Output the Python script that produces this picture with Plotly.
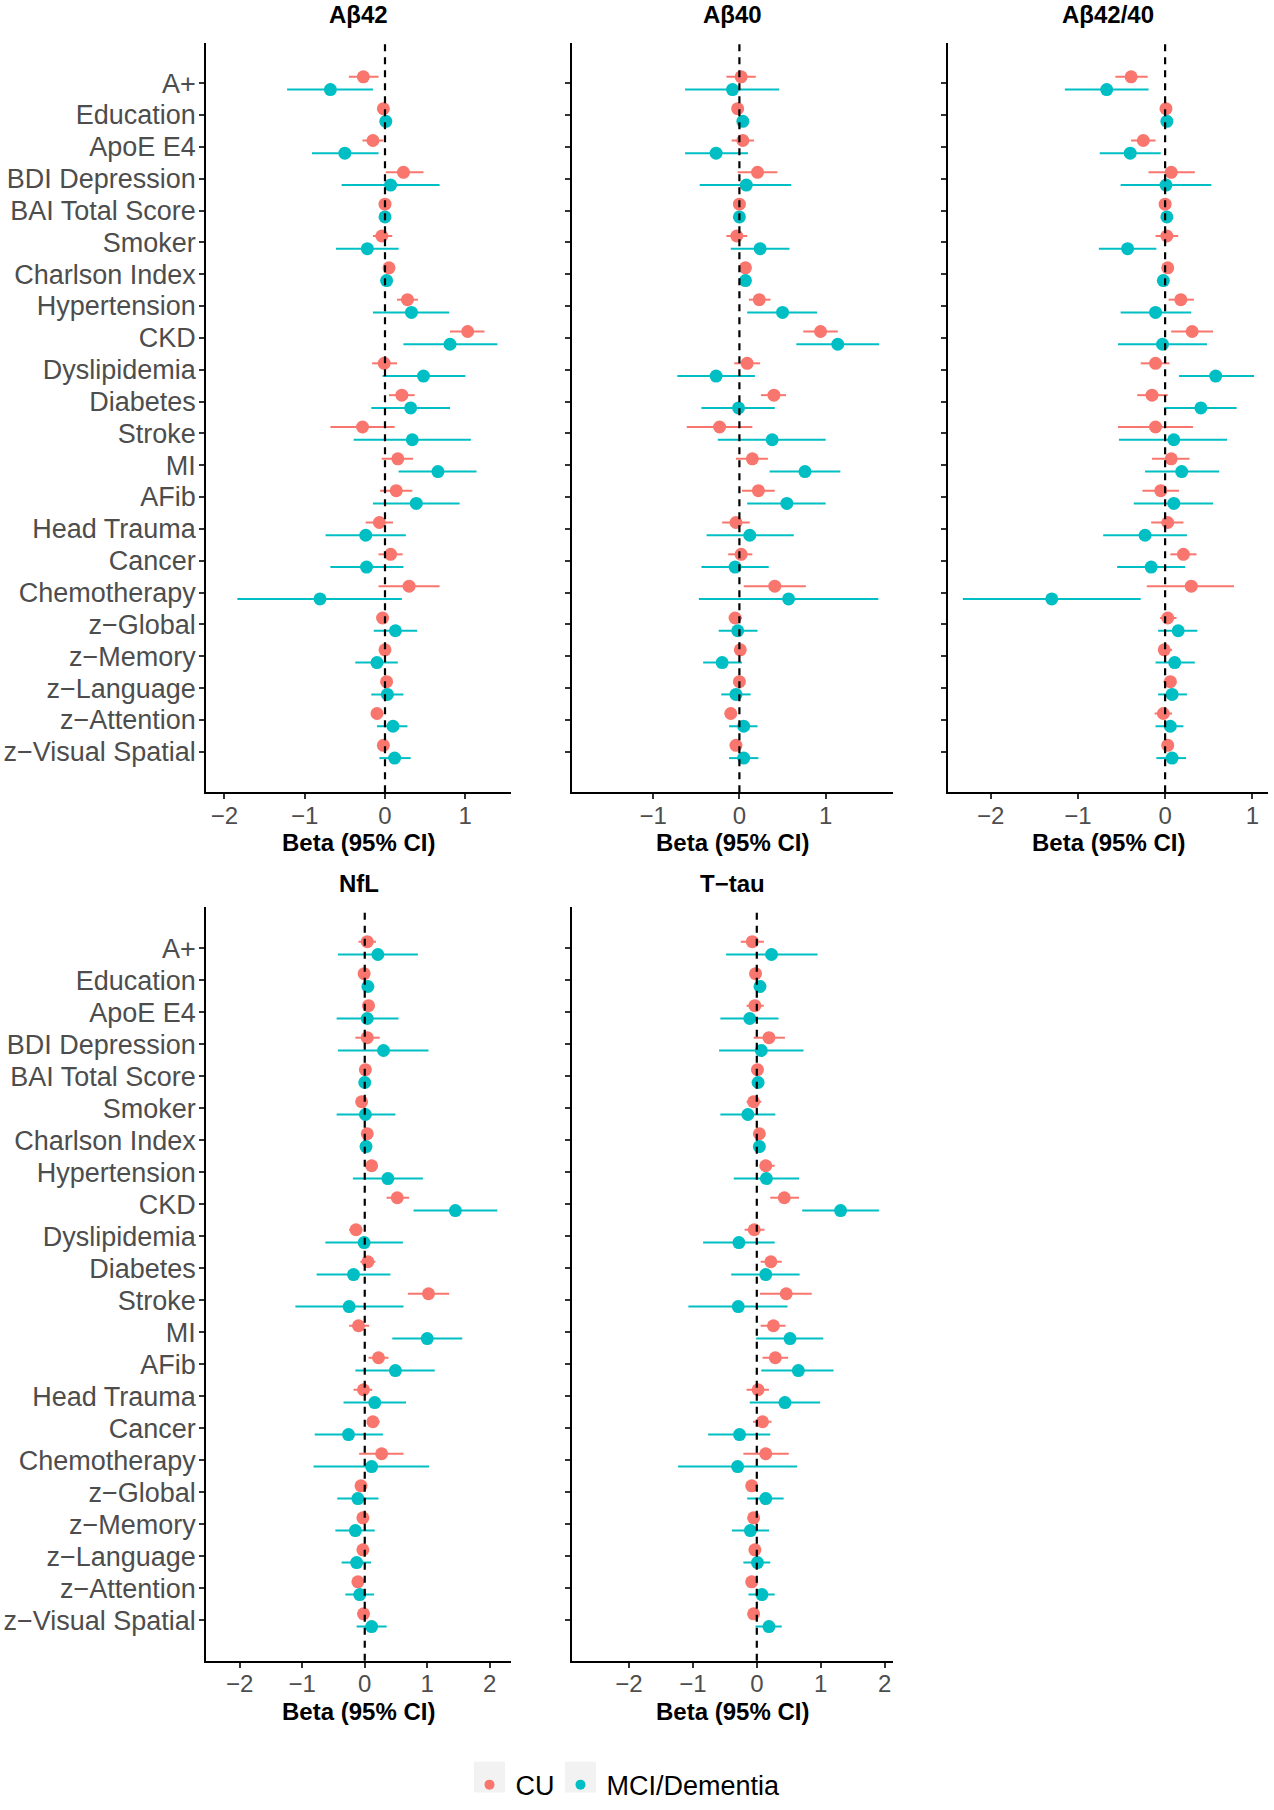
import plotly.graph_objects as go

# ---------------- data ----------------
categories = ["A+", "Education", "ApoE E4", "BDI Depression", "BAI Total Score", "Smoker",
              "Charlson Index", "Hypertension", "CKD", "Dyslipidemia", "Diabetes", "Stroke",
              "MI", "AFib", "Head Trauma", "Cancer", "Chemotherapy", "z−Global", "z−Memory",
              "z−Language", "z−Attention", "z−Visual Spatial"]

panel_titles = ["Aβ42", "Aβ40", "Aβ42/40", "NfL", "T−tau"]
group_names = ["CU", "MCI/Dementia"]

# Aβ42
ab42_cu_est = [-0.27, -0.02, -0.15, 0.23, 0.00, -0.04, 0.05, 0.28, 1.03, -0.01, 0.21, -0.28, 0.16, 0.14, -0.07, 0.07, 0.30, -0.03, 0.00, 0.02, -0.10, -0.02]
ab42_cu_lo = [-0.45, -0.04, -0.28, 0.01, -0.02, -0.15, 0.02, 0.15, 0.81, -0.16, 0.05, -0.68, -0.04, -0.06, -0.24, -0.08, -0.08, -0.10, -0.05, -0.03, -0.17, -0.07]
ab42_cu_hi = [-0.08, 0.00, -0.02, 0.48, 0.02, 0.09, 0.08, 0.41, 1.24, 0.15, 0.37, 0.12, 0.35, 0.34, 0.10, 0.22, 0.68, 0.04, 0.05, 0.07, -0.02, 0.03]
ab42_mci_est = [-0.68, 0.01, -0.50, 0.07, 0.00, -0.22, 0.02, 0.33, 0.81, 0.48, 0.32, 0.34, 0.66, 0.39, -0.24, -0.23, -0.81, 0.13, -0.10, 0.03, 0.10, 0.12]
ab42_mci_lo = [-1.22, -0.01, -0.91, -0.54, -0.02, -0.61, -0.01, -0.15, 0.23, -0.03, -0.17, -0.39, 0.17, -0.15, -0.74, -0.68, -1.84, -0.14, -0.37, -0.17, -0.10, -0.07]
ab42_mci_hi = [-0.15, 0.03, -0.08, 0.68, 0.02, 0.17, 0.05, 0.80, 1.40, 1.00, 0.81, 1.07, 1.14, 0.93, 0.26, 0.23, 0.21, 0.40, 0.16, 0.23, 0.28, 0.32]

# Aβ40
ab40_cu_est = [0.02, -0.02, 0.04, 0.21, 0.00, -0.03, 0.07, 0.23, 0.94, 0.09, 0.40, -0.23, 0.15, 0.22, -0.04, 0.02, 0.41, -0.05, 0.01, 0.00, -0.10, -0.04]
ab40_cu_lo = [-0.15, -0.05, -0.09, -0.02, -0.02, -0.15, 0.04, 0.11, 0.74, -0.06, 0.25, -0.61, -0.04, 0.03, -0.20, -0.13, 0.05, -0.12, -0.04, -0.05, -0.17, -0.09]
ab40_cu_hi = [0.19, 0.01, 0.17, 0.44, 0.02, 0.09, 0.10, 0.36, 1.14, 0.24, 0.54, 0.15, 0.33, 0.41, 0.12, 0.15, 0.77, 0.03, 0.06, 0.05, -0.05, 0.01]
ab40_mci_est = [-0.08, 0.04, -0.27, 0.08, 0.00, 0.24, 0.07, 0.50, 1.14, -0.27, -0.01, 0.38, 0.76, 0.55, 0.12, -0.05, 0.57, -0.02, -0.20, -0.04, 0.05, 0.05]
ab40_mci_lo = [-0.63, 0.01, -0.63, -0.46, -0.02, -0.10, 0.04, 0.09, 0.66, -0.72, -0.44, -0.25, 0.35, 0.09, -0.38, -0.44, -0.47, -0.24, -0.42, -0.21, -0.12, -0.12]
ab40_mci_hi = [0.46, 0.07, 0.10, 0.60, 0.02, 0.58, 0.10, 0.90, 1.62, 0.18, 0.41, 1.00, 1.17, 1.00, 0.63, 0.34, 1.61, 0.21, 0.03, 0.13, 0.21, 0.22]

# Aβ42/40
ratio_cu_est = [-0.39, 0.01, -0.25, 0.07, 0.00, 0.02, 0.03, 0.18, 0.31, -0.11, -0.15, -0.11, 0.07, -0.05, 0.03, 0.21, 0.30, 0.03, -0.01, 0.06, -0.02, 0.03]
ratio_cu_lo = [-0.57, -0.01, -0.39, -0.19, -0.02, -0.11, 0.00, 0.04, 0.07, -0.28, -0.32, -0.54, -0.15, -0.26, -0.16, 0.06, -0.21, -0.06, -0.08, -0.02, -0.12, -0.02]
ratio_cu_hi = [-0.20, 0.03, -0.11, 0.34, 0.02, 0.15, 0.06, 0.33, 0.55, 0.05, 0.03, 0.32, 0.28, 0.16, 0.21, 0.36, 0.79, 0.13, 0.08, 0.13, 0.08, 0.08]
ratio_mci_est = [-0.67, 0.02, -0.40, 0.01, 0.02, -0.43, -0.02, -0.11, -0.03, 0.58, 0.41, 0.10, 0.19, 0.10, -0.23, -0.16, -1.30, 0.15, 0.11, 0.08, 0.06, 0.08]
ratio_mci_lo = [-1.15, 0.00, -0.75, -0.51, 0.00, -0.76, -0.04, -0.51, -0.54, 0.16, -0.01, -0.53, -0.23, -0.36, -0.71, -0.55, -2.32, -0.08, -0.11, -0.08, -0.11, -0.10]
ratio_mci_hi = [-0.19, 0.04, -0.05, 0.53, 0.04, -0.10, 0.00, 0.30, 0.48, 1.02, 0.82, 0.71, 0.62, 0.55, 0.25, 0.23, -0.28, 0.37, 0.34, 0.25, 0.21, 0.24]

# NfL
nfl_cu_est = [0.04, -0.01, 0.06, 0.04, 0.01, -0.05, 0.04, 0.11, 0.52, -0.14, 0.05, 1.02, -0.10, 0.22, -0.02, 0.13, 0.27, -0.06, -0.03, -0.03, -0.11, -0.02]
nfl_cu_lo = [-0.10, -0.04, -0.03, -0.15, -0.02, -0.09, 0.01, 0.06, 0.35, -0.25, -0.07, 0.69, -0.25, 0.06, -0.18, 0.04, -0.09, -0.10, -0.07, -0.07, -0.15, -0.06]
nfl_cu_hi = [0.18, 0.02, 0.16, 0.24, 0.04, -0.01, 0.07, 0.16, 0.71, -0.04, 0.17, 1.35, 0.07, 0.38, 0.12, 0.24, 0.62, -0.02, 0.01, 0.01, -0.07, 0.02]
nfl_mci_est = [0.21, 0.05, 0.04, 0.30, 0.00, 0.01, 0.02, 0.37, 1.45, -0.01, -0.18, -0.25, 1.00, 0.49, 0.16, -0.26, 0.11, -0.11, -0.15, -0.13, -0.08, 0.11]
nfl_mci_lo = [-0.43, 0.02, -0.45, -0.43, -0.03, -0.45, -0.01, -0.19, 0.78, -0.63, -0.77, -1.11, 0.44, -0.15, -0.34, -0.80, -0.82, -0.44, -0.47, -0.37, -0.31, -0.13]
nfl_mci_hi = [0.85, 0.08, 0.54, 1.02, 0.03, 0.49, 0.05, 0.93, 2.12, 0.61, 0.41, 0.62, 1.56, 1.12, 0.66, 0.29, 1.03, 0.22, 0.16, 0.10, 0.15, 0.35]

# T-tau
tau_cu_est = [-0.07, -0.02, -0.03, 0.19, 0.01, -0.05, 0.04, 0.14, 0.43, -0.04, 0.22, 0.46, 0.26, 0.29, 0.02, 0.09, 0.14, -0.08, -0.05, -0.03, -0.08, -0.05]
tau_cu_lo = [-0.25, -0.05, -0.16, -0.05, -0.02, -0.16, 0.01, 0.05, 0.21, -0.19, 0.06, 0.05, 0.06, 0.09, -0.16, -0.06, -0.21, -0.12, -0.09, -0.07, -0.12, -0.09]
tau_cu_hi = [0.11, 0.01, 0.11, 0.44, 0.04, 0.07, 0.07, 0.28, 0.66, 0.12, 0.39, 0.86, 0.45, 0.49, 0.19, 0.23, 0.50, -0.04, -0.01, 0.01, -0.04, -0.01]
tau_mci_est = [0.23, 0.05, -0.11, 0.07, 0.02, -0.14, 0.04, 0.15, 1.31, -0.28, 0.14, -0.29, 0.52, 0.65, 0.44, -0.27, -0.30, 0.14, -0.10, 0.01, 0.08, 0.19]
tau_mci_lo = [-0.48, 0.02, -0.57, -0.59, -0.01, -0.57, 0.01, -0.36, 0.71, -0.84, -0.40, -1.07, -0.01, 0.07, -0.11, -0.76, -1.23, -0.15, -0.39, -0.21, -0.13, -0.02]
tau_mci_hi = [0.95, 0.08, 0.34, 0.73, 0.05, 0.29, 0.07, 0.66, 1.91, 0.28, 0.67, 0.48, 1.04, 1.20, 0.99, 0.21, 0.63, 0.42, 0.19, 0.21, 0.28, 0.39]

x_ranges = [[-2.23, 1.57], [-1.94, 1.78], [-2.49, 1.18], [-2.54, 2.34], [-2.89, 2.13]]
x_tickvals = [[-2, -1, 0, 1], [-1, 0, 1], [-2, -1, 0, 1], [-2, -1, 0, 1, 2], [-2, -1, 0, 1, 2]]

# ---------------- assembly ----------------
panel_data = [
    ((ab42_cu_est, ab42_cu_lo, ab42_cu_hi), (ab42_mci_est, ab42_mci_lo, ab42_mci_hi)),
    ((ab40_cu_est, ab40_cu_lo, ab40_cu_hi), (ab40_mci_est, ab40_mci_lo, ab40_mci_hi)),
    ((ratio_cu_est, ratio_cu_lo, ratio_cu_hi), (ratio_mci_est, ratio_mci_lo, ratio_mci_hi)),
    ((nfl_cu_est, nfl_cu_lo, nfl_cu_hi), (nfl_mci_est, nfl_mci_lo, nfl_mci_hi)),
    ((tau_cu_est, tau_cu_lo, tau_cu_hi), (tau_mci_est, tau_mci_lo, tau_mci_hi)),
]

W, H = 1274, 1810
colors = ["#F8766D", "#00BFC4"]
dodge = [-0.2, 0.2]
FONT = "Liberation Sans, Arial, sans-serif"

col_px = [(206, 511), (572, 893), (948, 1268)]
row_px = [(43, 797), (913, 1671)]
title_gap = [28, 24]
panel_cell = [(0, 0), (1, 0), (2, 0), (0, 1), (1, 1)]

n = len(categories)
idx = list(range(n))
pad = 1.27

fig = go.Figure()
layout = dict(
    width=W, height=H, margin=dict(l=0, r=0, t=0, b=0),
    paper_bgcolor="white", plot_bgcolor="white",
    font=dict(family=FONT, color="#4D4D4D"),
    showlegend=True,
)
shapes = []
annotations = []

for p, groups in enumerate(panel_data):
    k = p + 1
    xa = "x" if k == 1 else f"x{k}"
    ya = "y" if k == 1 else f"y{k}"
    c, r = panel_cell[p]
    x0, x1 = col_px[c]
    top, bot = row_px[r]
    for g, (est, lo, hi) in enumerate(groups):
        fig.add_trace(go.Scatter(
            x=est, y=[i + dodge[g] for i in idx], mode="markers",
            xaxis=xa, yaxis=ya, showlegend=False, name=group_names[g],
            marker=dict(color=colors[g], size=13, line=dict(width=0)),
            error_x=dict(type="data", symmetric=False,
                         array=[h - e for h, e in zip(hi, est)],
                         arrayminus=[e - l for e, l in zip(est, lo)],
                         color=colors[g], thickness=2, width=0),
            customdata=categories,
            hovertemplate="%{customdata}: %{x}<extra>" + group_names[g] + "</extra>",
        ))
    xkey = "xaxis" if k == 1 else f"xaxis{k}"
    ykey = "yaxis" if k == 1 else f"yaxis{k}"
    layout[xkey] = dict(
        domain=[x0 / W, x1 / W], anchor=ya, range=x_ranges[p],
        tickvals=x_tickvals[p], ticks="outside", ticklen=5, tickwidth=1.5, tickcolor="#333333",
        tickfont=dict(size=24, color="#4D4D4D", family=FONT), ticklabelstandoff=-4,
        showline=True, linecolor="black", linewidth=1.6,
        showgrid=False, zeroline=False, fixedrange=True,
    )
    layout[ykey] = dict(
        domain=[1 - bot / H, 1 - top / H], anchor=xa,
        range=[n - 1 + pad, -pad], tickvals=idx, ticktext=categories,
        showticklabels=(c == 0), ticklabelstandoff=-2,
        ticks="outside", ticklen=5, tickwidth=1.5, tickcolor="#333333",
        tickfont=dict(size=27, color="#4D4D4D", family=FONT),
        showline=True, linecolor="black", linewidth=1.6,
        showgrid=False, zeroline=False, fixedrange=True,
    )
    shapes.append(dict(type="line", xref=xa, yref=f"{ya} domain", x0=0, x1=0, y0=0, y1=1,
                       line=dict(color="black", width=2.2, dash="7px,6px"), layer="above"))
    annotations.append(dict(text="<b>" + panel_titles[p] + "</b>", x=(x0 + x1) / 2 / W,
                            y=1 - (top - title_gap[r]) / H, xref="paper", yref="paper",
                            xanchor="center", yanchor="middle", showarrow=False,
                            font=dict(size=24, color="black", family=FONT)))
    annotations.append(dict(text="<b>Beta (95% CI)</b>", x=(x0 + x1) / 2 / W,
                            y=1 - (bot + 51) / H, xref="paper", yref="paper",
                            xanchor="center", yanchor="middle", showarrow=False,
                            font=dict(size=24, color="black", family=FONT)))

# legend entries (first entry given a fixed text width so the keys sit where the reference has them)
legend_text_widths = [34, None]
for g in range(2):
    fig.add_trace(go.Scatter(x=[None], y=[None], mode="markers", name=group_names[g],
                             marker=dict(color=colors[g], size=10), showlegend=True,
                             legendwidth=legend_text_widths[g], hoverinfo="skip"))

# grey legend key backgrounds (behind the legend symbols)
leg_left, key_y = 463.5, 1788
key_centers = [leg_left + 26, leg_left + 26 + 91]
for kc in key_centers:
    shapes.append(dict(type="rect", xref="paper", yref="paper",
                       x0=(kc - 15.5) / W, x1=(kc + 15.5) / W,
                       y0=1 - (key_y + 15.5) / H, y1=1 - (key_y - 15.5) / H,
                       fillcolor="#F2F2F2", line=dict(width=0), layer="below"))

layout["legend"] = dict(
    orientation="h", x=leg_left / W, xanchor="left", y=1 - (key_y + 8) / H, yanchor="middle",
    font=dict(size=27, color="black", family=FONT), bgcolor="rgba(0,0,0,0)",
    itemwidth=42, itemclick=False, itemdoubleclick=False,
)
layout["shapes"] = shapes
layout["annotations"] = annotations
fig.update_layout(**layout)

fig.write_html("out.html", config={"displayModeBar": False},
               post_script="document.body.style.margin='0';")
